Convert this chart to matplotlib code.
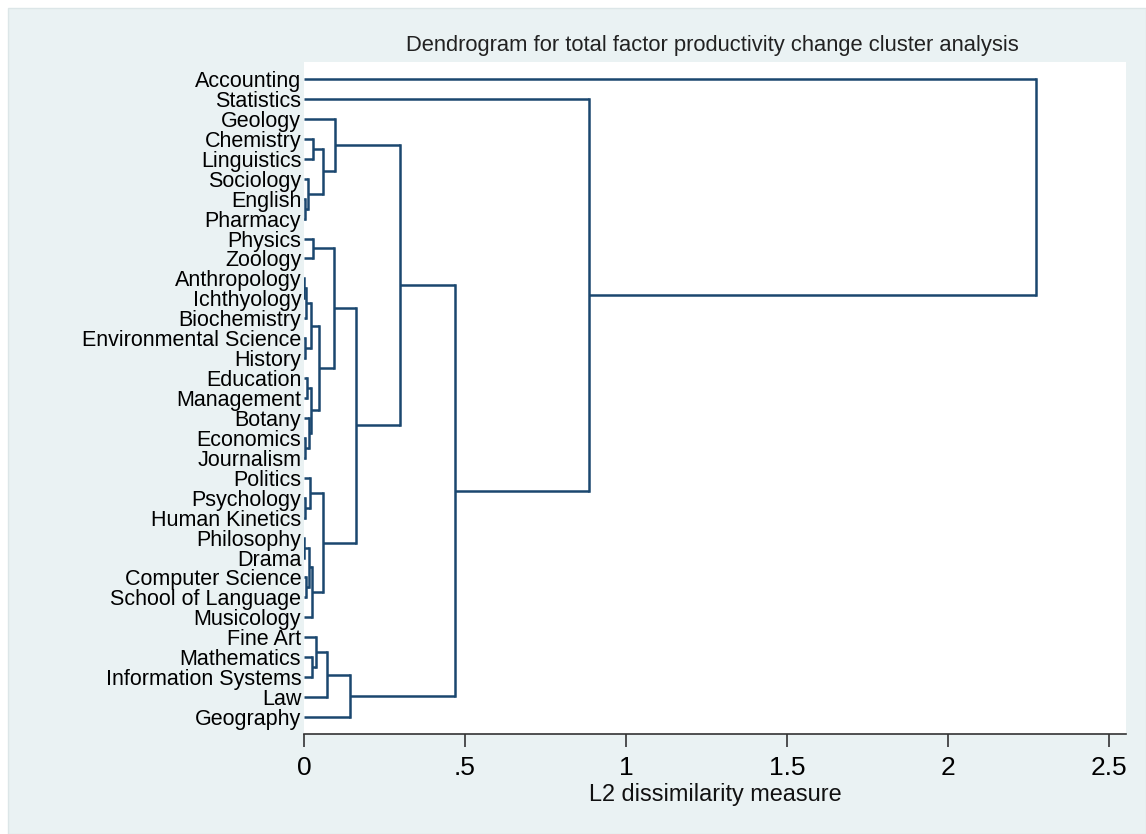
import matplotlib
matplotlib.use("Agg")
import matplotlib.pyplot as plt
from matplotlib.patches import Rectangle

# ---------------- data ----------------
leaf_labels = [
    "Accounting", "Statistics", "Geology", "Chemistry", "Linguistics",
    "Sociology", "English", "Pharmacy", "Physics", "Zoology",
    "Anthropology", "Ichthyology", "Biochemistry", "Environmental Science",
    "History", "Education", "Management", "Botany", "Economics",
    "Journalism", "Politics", "Psychology", "Human Kinetics", "Philosophy",
    "Drama", "Computer Science", "School of Language", "Musicology",
    "Fine Art", "Mathematics", "Information Systems", "Law", "Geography",
]

# merges: a leaf name or the index of an earlier merge on each side
merge_left = [
    "English", "Sociology", "Chemistry", 2, "Geology",            # 0-4
    "Physics", "Anthropology", 6, "Environmental Science", 7,     # 5-9
    "Education", "Economics", "Botany", 10, 9,                    # 10-14
    5, "Psychology", "Politics", "Philosophy", "Computer Science",  # 15-19
    18, 20, 17, 15, 4,                                           # 20-24
    "Mathematics", "Fine Art", 26, 27, 24,                        # 25-29
    "Statistics", "Accounting",                                   # 30-31
]
merge_right = [
    "Pharmacy", 0, "Linguistics", 1, 3,
    "Zoology", "Ichthyology", "Biochemistry", "History", 8,
    "Management", "Journalism", 11, 12, 13,
    14, "Human Kinetics", 16, "Drama", "School of Language",
    19, "Musicology", 21, 22, 23,
    "Information Systems", 25, "Law", "Geography", 28,
    29, 30,
]
merge_height = [
    0.004, 0.012, 0.028, 0.059, 0.096,
    0.028, 0.001, 0.006, 0.004, 0.021,
    0.010, 0.002, 0.014, 0.022, 0.046,
    0.093, 0.004, 0.018, 0.001, 0.006,
    0.015, 0.026, 0.059, 0.161, 0.298,
    0.025, 0.037, 0.071, 0.143, 0.469,
    0.885, 2.273,
]

x_ticks = [0, 0.5, 1, 1.5, 2, 2.5]
x_tick_labels = ["0", ".5", "1", "1.5", "2", "2.5"]
title = "Dendrogram for total factor productivity change cluster analysis"
x_label = "L2 dissimilarity measure"

# ---------------- figure ----------------
W, H = 1146, 834
DPI = 100
bg = "#EAF2F3"
line_c = "#1A476F"
font = ["Liberation Sans", "DejaVu Sans"]

fig = plt.figure(figsize=(W / DPI, H / DPI), dpi=DPI)
fig.patch.set_facecolor("white")
fig.patches.append(Rectangle((8 / W, 0), 1 - 8 / W, 1 - 8 / H,
                             transform=fig.transFigure, facecolor=bg,
                             edgecolor="#DCE6E8", linewidth=1.0, zorder=-10))

ax_l, ax_r, ax_t, ax_b = 304, 1126, 62, 734
ax = fig.add_axes([ax_l / W, 1 - ax_b / H, (ax_r - ax_l) / W, (ax_b - ax_t) / H])
ax.set_zorder(5)
ax.set_facecolor("white")

n = len(leaf_labels)
leaf_index = {name: i for i, name in enumerate(leaf_labels)}
pos = []
hgt = []


def node(ref):
    if isinstance(ref, str):
        return float(leaf_index[ref]), 0.0
    return pos[ref], hgt[ref]


lw = 1.8
for a, b, h in zip(merge_left, merge_right, merge_height):
    ya, ha = node(a)
    yb, hb = node(b)
    ax.plot([ha, h], [ya, ya], color=line_c, lw=lw, solid_capstyle="butt", zorder=3)
    ax.plot([hb, h], [yb, yb], color=line_c, lw=lw, solid_capstyle="butt", zorder=3)
    ax.plot([h, h], [ya, yb], color=line_c, lw=lw, solid_capstyle="projecting", zorder=3)
    pos.append((ya + yb) / 2)
    hgt.append(h)

# scales
x_per_px = 1 / 322.0
ax.set_xlim(0, (ax_r - ax_l) * x_per_px)
leaf_top, leaf_step = 79, (717 - 79) / (n - 1)
ax.set_ylim((ax_b - leaf_top) / leaf_step, (ax_t - leaf_top) / leaf_step)

for s in ["top", "right", "left"]:
    ax.spines[s].set_visible(False)
ax.spines["bottom"].set_color("#333333")
ax.spines["bottom"].set_linewidth(1.2)

ax.set_xticks(x_ticks)
ax.set_xticklabels(x_tick_labels, fontsize=19, family=font)
ax.tick_params(axis="x", direction="out", length=9.5, width=1.2, color="#333333", pad=6)

ax.set_yticks(range(n))
ax.set_yticklabels(leaf_labels, fontsize=15.5, family=font)
ax.tick_params(axis="y", length=0, pad=2)

fig.text((ax_l + ax_r) / 2 / W - 3 / W, 1 - 45 / H, title, ha="center", va="center",
         fontsize=15.8, family=font, color="#222222")
fig.text((ax_l + ax_r) / 2 / W, 1 - 795 / H, x_label, ha="center", va="center",
         fontsize=16.9, family=font, color="#111111")

fig.savefig("out.png", dpi=DPI, facecolor=fig.get_facecolor())
